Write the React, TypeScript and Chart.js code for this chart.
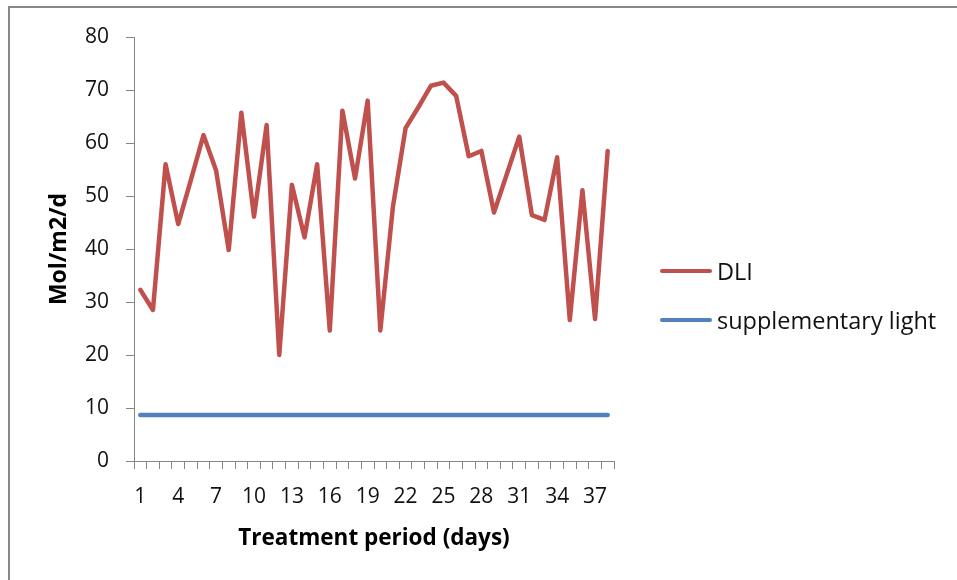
import React, { useEffect, useRef } from "react";
import { Chart, registerables } from "chart.js";

Chart.register(...registerables);

const days = ["1","2","3","4","5","6","7","8","9","10","11","12","13","14","15","16","17","18","19","20","21","22","23","24","25","26","27","28","29","30","31","32","33","34","35","36","37","38"];

const dli = [32.3, 28.5, 56.0, 44.7, 53.0, 61.5, 54.8, 39.8, 65.7, 46.1, 63.4, 20.0, 52.1, 42.2, 56.0, 24.6, 66.1, 53.3, 68.0, 24.6, 48.0, 62.8, 66.7, 70.8, 71.4, 68.9, 57.5, 58.5, 46.9, 54.0, 61.2, 46.4, 45.5, 57.3, 26.6, 51.1, 26.8, 58.5];

const supplementary = [8.7, 8.7, 8.7, 8.7, 8.7, 8.7, 8.7, 8.7, 8.7, 8.7, 8.7, 8.7, 8.7, 8.7, 8.7, 8.7, 8.7, 8.7, 8.7, 8.7, 8.7, 8.7, 8.7, 8.7, 8.7, 8.7, 8.7, 8.7, 8.7, 8.7, 8.7, 8.7, 8.7, 8.7, 8.7, 8.7, 8.7, 8.7];

const seriesNames = ["DLI", "supplementary light"];
const yTitle = "Mol/m2/d";
const xTitle = "Treatment period (days)";

const RED = "#C0504D";
const BLUE = "#4F81BD";
const AXIS = "#868686";
const FONT = "'Open Sans', sans-serif";

export default function App() {
  const ref = useRef<HTMLCanvasElement | null>(null);

  useEffect(() => {
    if (!ref.current) return;
    const chart = new Chart(ref.current, {
      type: "line",
      data: {
        labels: days,
        datasets: [
          {
            label: seriesNames[0],
            data: dli,
            borderColor: RED,
            backgroundColor: RED,
            borderWidth: 4.5,
            pointRadius: 0,
            tension: 0,
            borderJoinStyle: "round",
            borderCapStyle: "round",
          },
          {
            label: seriesNames[1],
            data: supplementary,
            borderColor: BLUE,
            backgroundColor: BLUE,
            borderWidth: 4.5,
            pointRadius: 0,
            tension: 0,
            borderJoinStyle: "round",
            borderCapStyle: "round",
          },
        ],
      },
      options: {
        responsive: false,
        animation: false,
        layout: { padding: { left: 36, top: 37, right: 343, bottom: 20 } },
        plugins: {
          legend: { display: false },
          tooltip: { enabled: false },
        },
        scales: {
          x: {
            type: "category",
            offset: true,
            grid: {
              offset: true,
              drawOnChartArea: false,
              drawTicks: true,
              tickLength: 8,
              color: AXIS,
            },
            border: { color: AXIS, width: 1 },
            ticks: {
              autoSkip: false,
              maxRotation: 0,
              padding: 15,
              color: "#111",
              font: { family: FONT, size: 21 },
              callback: (_v: any, i: number) => (i % 3 === 0 ? days[i] : ""),
            },
            title: {
              display: true,
              text: xTitle,
              color: "#000",
              font: { family: FONT, size: 22.5, weight: "bold" },
              padding: { top: 0, bottom: 8 },
            },
            afterFit: (s: any) => {
              s.height = 99;
            },
          },
          y: {
            min: 0,
            max: 80,
            grid: {
              drawOnChartArea: false,
              drawTicks: true,
              tickLength: 8,
              color: AXIS,
            },
            border: { color: AXIS, width: 1 },
            ticks: {
              stepSize: 10,
              padding: 17,
              color: "#111",
              font: { family: FONT, size: 21 },
            },
            title: {
              display: true,
              text: yTitle,
              color: "#000",
              font: { family: FONT, size: 23, weight: "bold" },
              padding: { top: 10, bottom: 0 },
            },
            afterFit: (s: any) => {
              s.width = 98;
            },
          },
        },
      },
    });
    return () => chart.destroy();
  }, []);

  const legendItem = (name: string, color: string, top: number) => (
    <div
      style={{
        position: "absolute",
        left: 660,
        top: top - 16,
        height: 32,
        display: "flex",
        alignItems: "center",
        fontFamily: FONT,
        fontSize: 23.5,
        color: "#111",
        whiteSpace: "nowrap",
      }}
    >
      <div style={{ width: 52, height: 4.5, borderRadius: 2, background: color, marginRight: 5 }} />
      <span>{name}</span>
    </div>
  );

  return (
    <div style={{ position: "absolute", left: 0, top: 0, width: 957, height: 580, background: "#fff", overflow: "hidden" }}>
      <canvas ref={ref} width={957} height={580} style={{ display: "block", position: "absolute", left: 0, top: 0 }} />
      <div
        style={{
          position: "absolute",
          left: 8,
          top: 6,
          width: 957,
          height: 580,
          borderLeft: "2px solid #888",
          borderTop: "2px solid #888",
          pointerEvents: "none",
        }}
      />
      {legendItem(seriesNames[0], RED, 271)}
      {legendItem(seriesNames[1], BLUE, 320)}
    </div>
  );
}
